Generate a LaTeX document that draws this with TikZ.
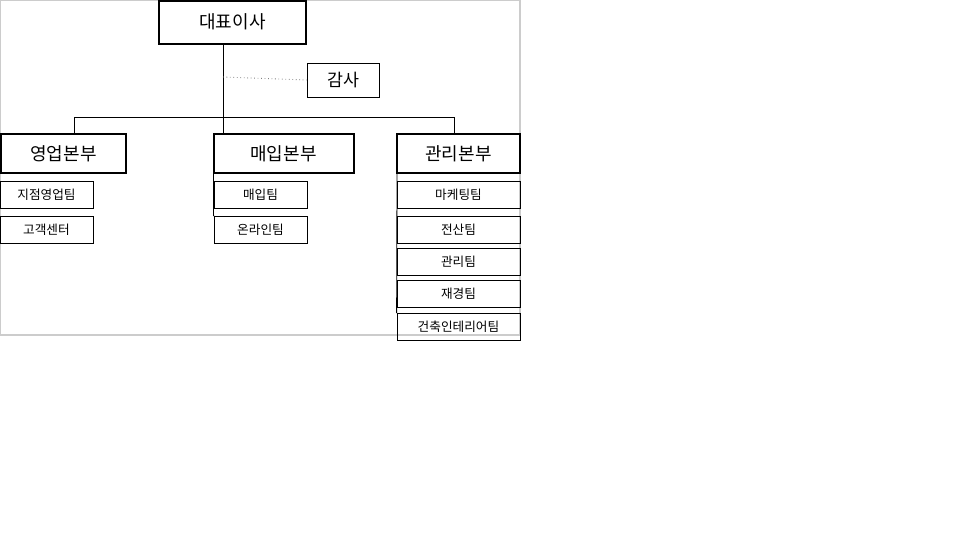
\documentclass[tikz,border=0pt]{standalone}
\usepackage{fontspec}
\newfontfamily\kr{Noto Sans CJK KR}
\begin{document}
\begin{tikzpicture}[x=0.75pt,y=-0.75pt,
  head/.style={draw,line width=1.5pt,font=\kr\fontsize{13.5}{15}\selectfont},
  sub/.style={draw,line width=0.6pt,font=\kr\fontsize{9.5}{11}\selectfont},
  ln/.style={line width=0.6pt}]
\useasboundingbox (0,0) rectangle (960,540);
\draw[gray!40,line width=0.8pt] (0.5,0.5) rectangle (520,335);
\node[head,minimum width=147*0.75pt,minimum height=43*0.75pt] (ceo) at (232.5,22) {대표이사};
\node[draw,line width=0.6pt,font=\kr\fontsize{13}{15}\selectfont,minimum width=72*0.75pt,minimum height=34*0.75pt] (audit) at (343,80) {감사};
\coordinate (top) at (223,117);
\coordinate (lft) at (74,117);
\coordinate (rgt) at (454,117);
\coordinate (dot) at (223,77);
\draw[ln] (ceo.south -| top) -- (top);
\draw[ln,dotted,gray] (dot) -- (audit.west);
\draw[ln] (lft) -- (rgt);
\node[head,minimum width=125*0.75pt,minimum height=39*0.75pt] (d1) at (63.5,153.5) {영업본부};
\node[head,minimum width=140*0.75pt,minimum height=39*0.75pt] (d2) at (283.5,153.5) {매입본부};
\node[head,minimum width=123*0.75pt,minimum height=39*0.75pt] (d3) at (458.5,153.5) {관리본부};
\draw[ln] (top) -- (top |- d2.north);
\draw[ln] (lft) -- (lft |- d1.north);
\draw[ln] (rgt) -- (rgt |- d3.north);
\tikzset{s1/.style={sub,minimum width=93*0.75pt,minimum height=27*0.75pt},
 s3/.style={sub,minimum width=123*0.75pt,minimum height=27*0.75pt}}
\node[s1] (a1) at (46.5,194.5) {지점영업팀};
\node[s1] (a2) at (46.5,230) {고객센터};
\node[s1] (b1) at (260.5,194.5) {매입팀};
\node[s1] (b2) at (260.5,230) {온라인팀};
\node[s3] (c1) at (458.5,194.5) {마케팅팀};
\node[s3] (c2) at (458.5,230) {전산팀};
\node[s3] (c3) at (458.5,262) {관리팀};
\node[s3] (c4) at (458.5,294) {재경팀};
\node[s3] (c5) at (458.5,327) {건축인테리어팀};
\draw[ln] (d2.south west) ++(1,0) -- (b2.north west);
\draw[ln] (d3.south west) ++(1,0) -- (c5.north west);
\end{tikzpicture}
\end{document}
